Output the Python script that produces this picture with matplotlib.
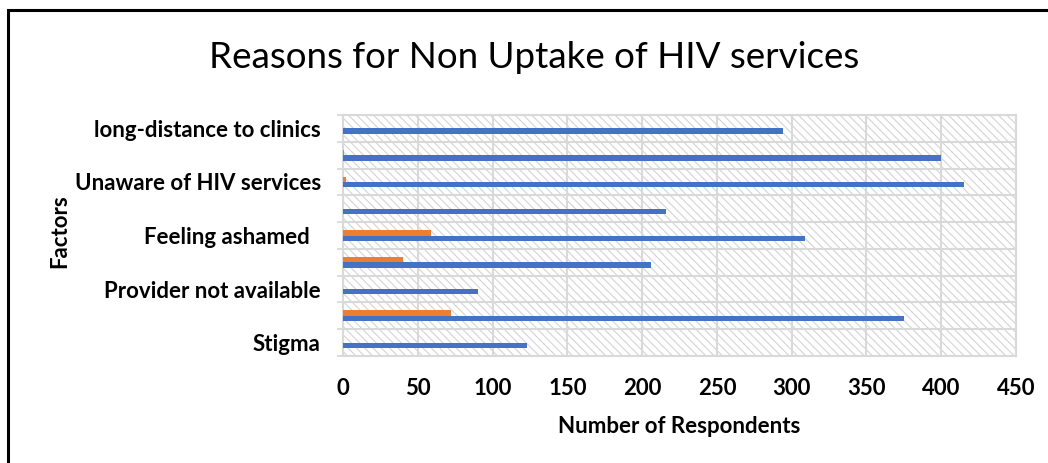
import matplotlib.pyplot as plt
import numpy as np
from matplotlib.patches import Rectangle

# -------------------------- Data ----------------------------- #
# categories from bottom to top (only every other label is shown in the source)
factors = ['Stigma', '', 'Provider not available', '', 'Feeling ashamed  ',
           '', 'Unaware of HIV services', '', 'long-distance to clinics']
blue_vals = [123, 375, 90, 206, 309, 216, 415, 400, 294]
orange_vals = [0, 72, 0, 40, 59, 0, 2, 1, 0]
x_ticks = [0, 50, 100, 150, 200, 250, 300, 350, 400, 450]

title = 'Reasons for Non Uptake of HIV services'
x_label = 'Number of Respondents'
y_label = 'Factors'

blue = '#4472C4'
orange = '#ED7D31'
grid_col = '#d9d9d9'

plt.rcParams['font.family'] = ['Lato', 'DejaVu Sans']
plt.rcParams['hatch.linewidth'] = 0.8

fig = plt.figure(figsize=(10.48, 4.63), dpi=100)
ax = fig.add_axes([343/1048, 1-356/463, (1016-343)/1048, (356-115)/463])

y = np.arange(len(factors))
bh = 0.2
ax.barh(y - bh/2, blue_vals, height=bh, color=blue, zorder=3)
ax.barh(y + bh/2, orange_vals, height=bh, color=orange, zorder=3)

# hatched plot area background
ax.add_patch(Rectangle((0, 0), 1, 1, transform=ax.transAxes, facecolor='white',
                       edgecolor='#d4d4d4', hatch=r'\\\\', lw=0, zorder=0.5))

ax.set_xlim(0, 450)
ax.set_ylim(-0.5, len(factors) - 0.5)
ax.set_xticks(x_ticks)
ax.set_xticklabels([str(t) for t in x_ticks], fontsize=16, fontweight='bold')
ax.set_yticks(y)
ax.set_yticklabels(factors, fontsize=16, fontweight='bold')
ax.set_yticks(np.arange(len(factors) + 1) - 0.5, minor=True)

ax.tick_params(axis='x', length=0, pad=16)
ax.tick_params(axis='y', which='major', length=0, pad=16)
ax.tick_params(axis='y', which='minor', length=4, color=grid_col, width=1.3)

# grid lines
ax.grid(axis='x', color=grid_col, lw=1.5, zorder=1)
ax.grid(axis='y', which='minor', color=grid_col, lw=1.5, zorder=1)
ax.set_axisbelow(True)
for s in ax.spines.values():
    s.set_color(grid_col)
    s.set_linewidth(1.5)

ax.set_xlabel(x_label, fontsize=16, fontweight='bold', labelpad=12)
fig.text(60/1048, 1-231/463, y_label, rotation=90, fontsize=16, fontweight='bold',
         ha='center', va='center')
fig.text(534/1048, 1-57/463, title, fontsize=26.5, ha='center', va='center')

# outer frame of the chart
fig.add_artist(Rectangle((8/1048, -0.05), 1.1, 1.05 - 10/463, transform=fig.transFigure,
                         facecolor='none', edgecolor='black', lw=2.2, clip_on=False))

fig.savefig('out.png', dpi=100)
